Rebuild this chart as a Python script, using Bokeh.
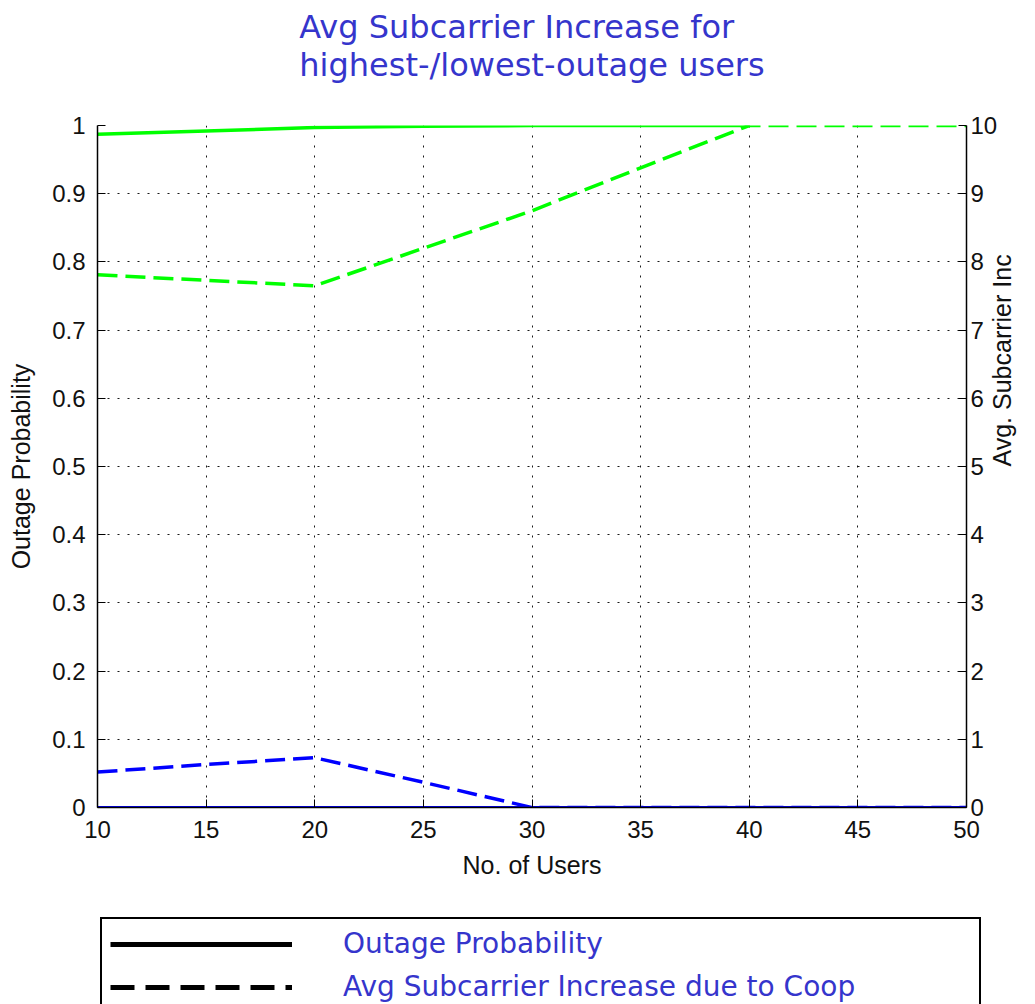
import math
from bokeh.plotting import figure
from bokeh.models import (Range1d, LinearAxis, FixedTicker, Legend, LegendItem, Title)
from bokeh.layouts import column
from bokeh.embed import file_html
from bokeh.resources import INLINE

# ---- data ----
users = [10, 15, 20, 25, 30, 35, 40, 45, 50]
users_hi_outage = [10, 15, 20, 25, 30, 35, 40]
outage_highest = [0.987, 0.992, 0.997, 0.999, 1.0, 1.0, 1.0]
outage_lowest = [0, 0, 0, 0, 0, 0, 0, 0, 0]
subinc_highest = [7.81, 7.73, 7.65, 8.2, 8.75, 9.38, 10, 10, 10]
subinc_lowest = [0.52, 0.63, 0.73, 0.37, 0, 0, 0, 0, 0]

x_ticks = [10, 15, 20, 25, 30, 35, 40, 45, 50]
left_ticks = [0, 0.1, 0.2, 0.3, 0.4, 0.5, 0.6, 0.7, 0.8, 0.9, 1]
left_tick_labels = ["0", "0.1", "0.2", "0.3", "0.4", "0.5", "0.6", "0.7", "0.8", "0.9", "1"]
right_ticks = [0, 1, 2, 3, 4, 5, 6, 7, 8, 9, 10]

title_text = "Avg Subcarrier Increase for\nhighest-/lowest-outage users"
legend_labels = ["Outage Probability", "Avg Subcarrier Increase due to Coop"]

TICK_FONT = "Liberation Sans"
BLUE_TXT = "#3535cc"
GREEN = "#00ff00"
BLUE = "#0000ff"

p = figure(width=1035, height=905, output_backend="svg", toolbar_location=None,
           x_range=Range1d(10, 50), y_range=Range1d(0, 1),
           min_border_left=97, min_border_right=69, min_border_top=125, min_border_bottom=98)
p.extra_y_ranges = {"right": Range1d(0, 10)}
p.outline_line_color = None
p.background_fill_color = "white"
p.border_fill_color = "white"

# spacer between frame and title (closest to frame), then the real title outside it
spacer = Title(text=" ", text_font_size="10px", standoff=26)
p.add_layout(spacer, "above")
p.title = Title(text=title_text, align="center", text_font="DejaVu Sans", text_font_size="32px",
                text_font_style="normal", text_color=BLUE_TXT, standoff=6, text_line_height=1.0)

# axes
xa = p.xaxis[0]
xa.ticker = FixedTicker(ticks=x_ticks)
xa.axis_label = "No. of Users"
ya = p.yaxis[0]
ya.ticker = FixedTicker(ticks=left_ticks)
ya.major_label_overrides = {k: v for k, v in zip(left_ticks, left_tick_labels)}
ya.axis_label = "Outage Probability"

ra = LinearAxis(y_range_name="right", ticker=FixedTicker(ticks=right_ticks),
                axis_label="Avg. Subcarrier Inc")
p.add_layout(ra, "right")

for ax in [xa, ya, ra]:
    ax.major_tick_in = 8
    ax.major_tick_out = 0
    ax.minor_tick_in = 0
    ax.minor_tick_out = 0
    ax.axis_line_color = "black"
    ax.axis_line_width = 1.5
    ax.major_tick_line_color = "black"
    ax.major_label_text_font = TICK_FONT
    ax.major_label_text_font_size = "24px"
    ax.major_label_text_color = "#111111"
    ax.axis_label_text_font = TICK_FONT
    ax.axis_label_text_font_size = "25px"
    ax.axis_label_text_font_style = "normal"
    ax.axis_label_text_color = "#111111"
xa.major_label_standoff = 13
xa.axis_label_standoff = 10
ya.major_label_standoff = 12
ya.axis_label_standoff = 14
ra.major_label_standoff = 4
ra.axis_label_standoff = 2
ra.axis_label_orientation = math.pi / 2

# grid
p.xgrid.ticker = FixedTicker(ticks=x_ticks)
p.ygrid.ticker = FixedTicker(ticks=left_ticks)
for g in [p.xgrid[0], p.ygrid[0]]:
    g.grid_line_color = "black"
    g.grid_line_dash = "2 8"
    g.grid_line_width = 1
    g.grid_line_alpha = 0.9

# data lines
p.line(users, outage_lowest, line_color=BLUE, line_width=3)
p.line(users, subinc_lowest, y_range_name="right", line_color=BLUE, line_width=3.5, line_dash="20 8")
p.line(users_hi_outage, outage_highest, line_color=GREEN, line_width=3.5)
p.line(users, subinc_highest, y_range_name="right", line_color=GREEN, line_width=3.5, line_dash="20 8")

# legend panel (separate strip below the chart)
lf = figure(width=1035, height=99, output_backend="svg", toolbar_location=None,
            x_range=Range1d(0, 1), y_range=Range1d(0, 1),
            x_axis_location=None, y_axis_location=None,
            min_border_left=0, min_border_right=0, min_border_top=0, min_border_bottom=0)
loc_x = 100
try:
    lf.frame_align = False
except Exception:
    loc_x = 3
lf.outline_line_color = None
lf.xgrid.visible = False
lf.ygrid.visible = False
# proxy renderers for legend glyphs (drawn outside the visible range)
r_solid = lf.line([5, 6], [5, 6], line_color="black", line_width=5)
r_dash = lf.line([5, 6], [5, 6], line_color="black", line_width=5, line_dash="24 11")

legend = Legend(items=[LegendItem(label=legend_labels[0], renderers=[r_solid]),
                       LegendItem(label=legend_labels[1], renderers=[r_dash])],
                location=(loc_x, -9), orientation="vertical",
                glyph_width=182, glyph_height=32, label_height=32, label_standoff=51,
                label_width=628, spacing=10, padding=8,
                label_text_font="DejaVu Sans", label_text_font_size="28px",
                label_text_color=BLUE_TXT,
                border_line_color="black", border_line_width=2, border_line_alpha=1.0,
                background_fill_color="white", background_fill_alpha=1.0)
lf.add_layout(legend, "center")

layout = column(p, lf, spacing=0)
open("out.html", "w").write(file_html(layout, INLINE))
